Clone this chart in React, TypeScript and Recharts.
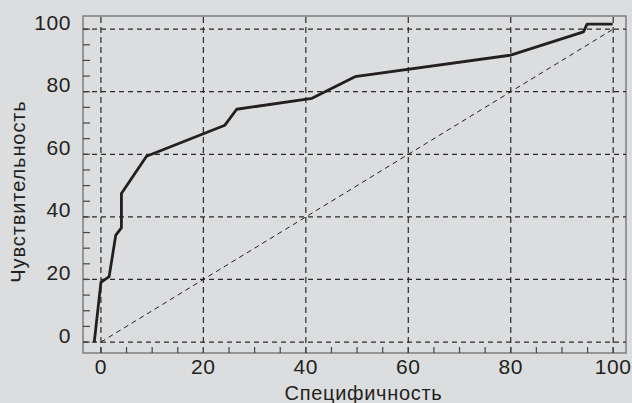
import React from "react";
import {
  LineChart,
  Line,
  XAxis,
  YAxis,
  ReferenceLine,
  ReferenceArea,
} from "recharts";

// ROC curve
const SPECIFICITY = [-1.3, 0, 1.6, 2.9, 4.0, 4.0, 8.9, 24.2, 26.5, 41.2, 49.6, 80.0, 94.2, 94.9, 99.9];
const SENSITIVITY = [0, 19.1, 20.9, 34.2, 36.5, 47.5, 59.4, 69.3, 74.4, 77.9, 84.8, 91.7, 99.1, 101.6, 101.6];

// reference diagonal
const DIAG_X = [0, 100];
const DIAG_Y = [0, 100];

const MAJOR_TICKS = [0, 20, 40, 60, 80, 100];
const ALL_TICKS = [0, 5, 10, 15, 20, 25, 30, 35, 40, 45, 50, 55, 60, 65, 70, 75, 80, 85, 90, 95, 100];

const X_DOMAIN: [number, number] = [-3.5, 102.5];
const Y_DOMAIN: [number, number] = [-3.5, 104.2];

const BG = "#dcdddf";
const INK = "#231f20";
const FONT = "'Liberation Sans', Arial, sans-serif";

const rocData = SPECIFICITY.map((x, i) => ({ x, y: SENSITIVITY[i] }));
const diagData = DIAG_X.map((x, i) => ({ x, y: DIAG_Y[i] }));

const XTick = (props: any) => {
  const { x, y, payload } = props;
  const major = MAJOR_TICKS.includes(payload.value);
  return (
    <g>
      <line x1={x} x2={x} y1={y} y2={y - 6} stroke="#444" strokeWidth={1.2} />
      {major && (
        <text
          x={x}
          y={y + 21}
          textAnchor="middle"
          fontSize={21}
          fontFamily={FONT}
          letterSpacing={0.6}
          fill={INK}
        >
          {payload.value}
        </text>
      )}
    </g>
  );
};

const YTick = (props: any) => {
  const { x, y, payload } = props;
  const major = MAJOR_TICKS.includes(payload.value);
  return (
    <g>
      <line x1={x} x2={x + 7} y1={y} y2={y} stroke="#444" strokeWidth={1.2} />
      {major && (
        <text
          x={x - 12}
          y={y + 0.5}
          textAnchor="end"
          fontSize={21}
          fontFamily={FONT}
          letterSpacing={0.6}
          fill={INK}
        >
          {payload.value}
        </text>
      )}
    </g>
  );
};

export default function App() {
  return (
    <div
      style={{
        position: "absolute",
        left: 0,
        top: 0,
        width: 632,
        height: 403,
        background: BG,
      }}
    >
      <LineChart
        width={632}
        height={403}
        margin={{ top: 16, right: 6, bottom: 0, left: 0 }}
      >
        <XAxis
          type="number"
          dataKey="x"
          domain={X_DOMAIN}
          allowDataOverflow
          ticks={ALL_TICKS}
          interval={0}
          tick={<XTick />}
          tickSize={0}
          tickMargin={0}
          tickLine={false}
          axisLine={false}
          height={50}
          label={(p: any) => (
            <text
              x={p.viewBox.x + p.viewBox.width / 2 + 9}
              y={p.viewBox.y + 47}
              textAnchor="middle"
              fontSize={20}
              fontFamily={FONT}
              letterSpacing={0.7}
              fill={INK}
            >
              Специфичность
            </text>
          )}
        />
        <YAxis
          type="number"
          dataKey="y"
          domain={Y_DOMAIN}
          allowDataOverflow
          ticks={ALL_TICKS}
          interval={0}
          tick={<YTick />}
          tickSize={0}
          tickMargin={0}
          tickLine={false}
          axisLine={false}
          width={83}
          label={() => (
            <text
              x={25}
              y={191.5}
              transform="rotate(-90 25 191.5)"
              textAnchor="middle"
              fontSize={20}
              fontFamily={FONT}
              letterSpacing={0.9}
              fill={INK}
            >
              Чувствительность
            </text>
          )}
        />
        {MAJOR_TICKS.map((v) => (
          <ReferenceLine
            key={"h" + v}
            y={v}
            stroke="#2a2a2a"
            strokeWidth={1.2}
            strokeDasharray="5 4"
          />
        ))}
        {MAJOR_TICKS.map((v) => (
          <ReferenceLine
            key={"v" + v}
            x={v}
            stroke="#2a2a2a"
            strokeWidth={1.2}
            strokeDasharray="6 4"
          />
        ))}
        <ReferenceArea
          x1={X_DOMAIN[0]}
          x2={X_DOMAIN[1]}
          y1={Y_DOMAIN[0]}
          y2={Y_DOMAIN[1]}
          fill="none"
          stroke="#7d7d7d"
          strokeWidth={1.5}
          ifOverflow="visible"
        />
        <Line
          data={diagData}
          dataKey="y"
          type="linear"
          stroke={INK}
          strokeWidth={1}
          strokeDasharray="5 4"
          dot={false}
          isAnimationActive={false}
        />
        <Line
          data={rocData}
          dataKey="y"
          type="linear"
          stroke={INK}
          strokeWidth={2.8}
          strokeLinejoin="round"
          dot={false}
          isAnimationActive={false}
        />
      </LineChart>
    </div>
  );
}
